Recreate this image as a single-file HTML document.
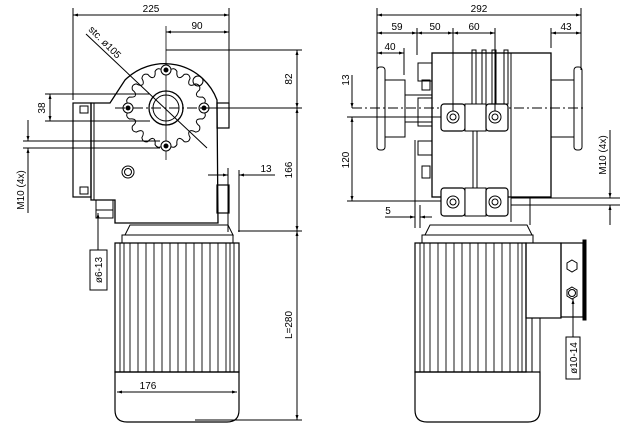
<!DOCTYPE html>
<html><head><meta charset="utf-8"><style>
html,body{margin:0;padding:0;background:#fff;width:620px;height:435px;overflow:hidden}
svg{display:block}
text{font-family:"Liberation Sans",sans-serif;font-size:10px;fill:#000}
</style></head><body>
<svg width="620" height="435" viewBox="0 0 620 435" xmlns="http://www.w3.org/2000/svg">
<defs>
<marker id="a" viewBox="0 0 10 10" refX="10" refY="5" markerWidth="7" markerHeight="5" orient="auto-start-reverse"><path d="M0,2 L10,5 L0,8z" fill="#000"/></marker>
<g id="tooth"><path d="M-6.4,-32.4 Q-4,-33 -3.6,-38 Q0,-42 3.6,-38 Q4,-33 6.4,-32.4" fill="none" stroke="#000" stroke-width="1"/></g>
</defs>
<g stroke="#000" stroke-width="1" fill="none">
<line x1="73" y1="8" x2="73" y2="100"/><line x1="229" y1="8" x2="229" y2="103"/>
<line x1="73" y1="15" x2="229" y2="15" marker-start="url(#a)" marker-end="url(#a)"/>
<line x1="166" y1="26" x2="166" y2="160" stroke-width="0.8"/>
<line x1="166" y1="32" x2="229" y2="32" marker-start="url(#a)" marker-end="url(#a)"/>
<line x1="166" y1="50" x2="302" y2="50"/><line x1="212" y1="108" x2="302" y2="108"/>
<line x1="297" y1="50" x2="297" y2="108" marker-start="url(#a)" marker-end="url(#a)"/>
<line x1="297" y1="108" x2="297" y2="231" marker-start="url(#a)" marker-end="url(#a)"/>
<line x1="297" y1="231" x2="297" y2="420" marker-start="url(#a)" marker-end="url(#a)"/>
<line x1="238" y1="231" x2="302" y2="231"/><line x1="195" y1="420" x2="302" y2="420"/>
<line x1="86" y1="34" x2="207" y2="148"/>
<line x1="45" y1="94" x2="150" y2="94"/><line x1="45" y1="121" x2="150" y2="121"/>
<line x1="50" y1="94" x2="50" y2="121" marker-start="url(#a)" marker-end="url(#a)"/>
<line x1="23" y1="141" x2="160" y2="141"/><line x1="23" y1="148" x2="160" y2="148"/>
<line x1="28" y1="120" x2="28" y2="141" marker-end="url(#a)"/><line x1="28" y1="168" x2="28" y2="148" marker-end="url(#a)"/>
<line x1="28" y1="168" x2="28" y2="213"/>
<line x1="228" y1="168" x2="228" y2="232"/><line x1="239" y1="170" x2="239" y2="232"/>
<line x1="208" y1="175" x2="228" y2="175" marker-end="url(#a)"/><line x1="275" y1="175" x2="239" y2="175" marker-end="url(#a)"/>
<path d="M102,103 L110,103 L125,80 A56,56 0 0 1 217,100 L217,103 L218,223 L115,223 L115,200 L91,200 L91,103 Z" stroke-width="1.3"/>
<line x1="94" y1="103" x2="94" y2="200"/>
<rect x="73" y="103" width="18" height="94" stroke-width="1.2"/>
<rect x="80" y="106" width="8" height="7"/><rect x="80" y="187" width="8" height="7"/>
<rect x="217" y="103" width="12" height="25" stroke-width="1.2"/>
<rect x="217" y="185" width="12" height="28" stroke-width="1.2"/>
<g transform="translate(166,108)">
<use href="#tooth" transform="rotate(11.25)"/><use href="#tooth" transform="rotate(33.75)"/><use href="#tooth" transform="rotate(56.25)"/><use href="#tooth" transform="rotate(78.75)"/><use href="#tooth" transform="rotate(101.25)"/><use href="#tooth" transform="rotate(123.75)"/><use href="#tooth" transform="rotate(146.25)"/><use href="#tooth" transform="rotate(168.75)"/><use href="#tooth" transform="rotate(191.25)"/><use href="#tooth" transform="rotate(213.75)"/><use href="#tooth" transform="rotate(236.25)"/><use href="#tooth" transform="rotate(258.75)"/><use href="#tooth" transform="rotate(281.25)"/><use href="#tooth" transform="rotate(303.75)"/><use href="#tooth" transform="rotate(326.25)"/><use href="#tooth" transform="rotate(348.75)"/>
</g>
<circle cx="166" cy="108" r="17" stroke-width="1.3"/><circle cx="166" cy="108" r="13"/>
<circle cx="128" cy="108" r="5" fill="#fff"/><circle cx="128" cy="108" r="2" fill="#000"/>
<circle cx="204" cy="108" r="5" fill="#fff"/><circle cx="204" cy="108" r="2" fill="#000"/>
<circle cx="166" cy="70" r="5" fill="#fff"/><circle cx="166" cy="70" r="2" fill="#000"/>
<circle cx="166" cy="146" r="5" fill="#fff"/><circle cx="166" cy="146" r="2" fill="#000"/>
<circle cx="198" cy="81" r="5"/>
<line x1="115" y1="108" x2="229" y2="108" stroke-dasharray="10,3,2,3"/>
<circle cx="128" cy="172" r="6"/><circle cx="128" cy="172" r="3.5"/>
<rect x="96" y="200" width="17" height="18"/><line x1="96" y1="210" x2="113" y2="210"/>
<path d="M125,235 L130,225 L228,225 L233,235 Z"/>
<rect x="122" y="235" width="111" height="8"/>
<path d="M115,243 L239,243 L239,372 L115,372 Z" stroke-width="1.2"/>
<path d="M115,372 L239,372 L239,410 Q239,422 227,422 L127,422 Q115,422 115,410 Z" stroke-width="1.2"/>
<g stroke-width="0.9">
<line x1="120" y1="243" x2="120" y2="372"/><line x1="124" y1="243" x2="124" y2="372"/><line x1="130" y1="243" x2="130" y2="372"/><line x1="138" y1="243" x2="138" y2="372"/><line x1="146" y1="243" x2="146" y2="372"/><line x1="154" y1="243" x2="154" y2="372"/><line x1="162" y1="243" x2="162" y2="372"/><line x1="170" y1="243" x2="170" y2="372"/><line x1="178" y1="243" x2="178" y2="372"/><line x1="186" y1="243" x2="186" y2="372"/><line x1="194" y1="243" x2="194" y2="372"/><line x1="202" y1="243" x2="202" y2="372"/><line x1="210" y1="243" x2="210" y2="372"/><line x1="218" y1="243" x2="218" y2="372"/><line x1="226" y1="243" x2="226" y2="372"/><line x1="230" y1="243" x2="230" y2="372"/><line x1="234" y1="243" x2="234" y2="372"/>
</g>
<line x1="117" y1="392" x2="237" y2="392" marker-start="url(#a)" marker-end="url(#a)"/>
<line x1="98" y1="250" x2="98" y2="213" marker-end="url(#a)"/>
<rect x="90" y="250" width="17" height="40"/>

<line x1="377" y1="8" x2="377" y2="70"/><line x1="581" y1="8" x2="581" y2="70"/>
<line x1="377" y1="15" x2="581" y2="15" marker-start="url(#a)" marker-end="url(#a)"/>
<line x1="377" y1="33" x2="417" y2="33" marker-start="url(#a)" marker-end="url(#a)"/>
<line x1="417" y1="33" x2="453" y2="33" marker-start="url(#a)" marker-end="url(#a)"/>
<line x1="453" y1="33" x2="495" y2="33" marker-start="url(#a)" marker-end="url(#a)"/>
<line x1="551" y1="33" x2="581" y2="33" marker-start="url(#a)" marker-end="url(#a)"/>
<line x1="377" y1="53" x2="404" y2="53" marker-start="url(#a)" marker-end="url(#a)"/>
<line x1="417" y1="28" x2="417" y2="55"/><line x1="551" y1="28" x2="551" y2="48"/><line x1="404" y1="48" x2="404" y2="75"/>
<line x1="352" y1="108" x2="585" y2="108" stroke-dasharray="10,3,2,3"/>
<line x1="347" y1="117" x2="443" y2="117"/>
<line x1="352" y1="75" x2="352" y2="108" marker-end="url(#a)"/>
<line x1="352" y1="201" x2="352" y2="117" marker-start="url(#a)" marker-end="url(#a)"/>
<line x1="347" y1="201" x2="443" y2="201"/>
<line x1="415" y1="140" x2="415" y2="228"/><line x1="420" y1="205" x2="420" y2="228"/>
<line x1="385" y1="217" x2="415" y2="217" marker-end="url(#a)"/><line x1="432" y1="217" x2="420" y2="217" marker-end="url(#a)"/>
<rect x="377" y="67" width="8" height="83" rx="3"/><rect x="385" y="80" width="20" height="57"/>
<line x1="405" y1="95" x2="432" y2="95"/><line x1="405" y1="122" x2="432" y2="122"/>
<rect x="574" y="67" width="8" height="83" rx="3"/><rect x="551" y="80" width="23" height="57"/>
<rect x="432" y="53" width="119" height="144" stroke-width="1.3"/>
<line x1="511" y1="53" x2="511" y2="222"/>
<rect x="418" y="63" width="14" height="18"/><rect x="418" y="98" width="14" height="28"/><rect x="418" y="141" width="14" height="14"/>
<rect x="422" y="80" width="8" height="10"/><rect x="422" y="166" width="8" height="12"/>
<rect x="472" y="50" width="4" height="54"/><rect x="482" y="50" width="4" height="54"/><rect x="492" y="50" width="4" height="54"/><rect x="504" y="50" width="4" height="54"/>
<rect x="473" y="131" width="4" height="57"/>
<rect x="441" y="104" width="24" height="27" rx="3" fill="#fff" stroke-width="1.2"/><rect x="465" y="104" width="21" height="27" fill="#fff"/><rect x="486" y="104" width="22" height="27" rx="3" fill="#fff" stroke-width="1.2"/>
<rect x="441" y="188" width="24" height="28" rx="3" fill="#fff" stroke-width="1.2"/><rect x="465" y="188" width="21" height="28" fill="#fff"/><rect x="486" y="188" width="22" height="28" rx="3" fill="#fff" stroke-width="1.2"/>
<circle cx="453" cy="117" r="6"/><circle cx="453" cy="117" r="3"/><circle cx="495" cy="117" r="6"/><circle cx="495" cy="117" r="3"/>
<circle cx="453" cy="202" r="6"/><circle cx="453" cy="202" r="3"/><circle cx="495" cy="202" r="6"/><circle cx="495" cy="202" r="3"/>
<line x1="453" y1="28" x2="453" y2="111"/><line x1="495" y1="28" x2="495" y2="111"/>
<path d="M508,197 L530,197 L530,225"/>
<line x1="511" y1="198" x2="620" y2="198"/><line x1="511" y1="205" x2="620" y2="205"/>
<line x1="610" y1="180" x2="610" y2="198" marker-end="url(#a)"/><line x1="610" y1="225" x2="610" y2="205" marker-end="url(#a)"/>
<line x1="610" y1="130" x2="610" y2="180"/>
<path d="M425,235 L430,225 L527,225 L532,235 Z"/>
<rect x="422" y="235" width="111" height="8"/>
<path d="M415,243 L526,243 L526,372 L415,372 Z" stroke-width="1.2"/>
<path d="M415,372 L540,372 L540,410 Q540,422 528,422 L427,422 Q415,422 415,410 Z" stroke-width="1.2"/>
<line x1="532" y1="318" x2="532" y2="372"/><line x1="540" y1="318" x2="540" y2="372"/>
<rect x="526" y="243" width="35" height="75" stroke-width="1.2"/>
<rect x="561" y="243" width="22" height="74" stroke-width="1.2"/>
<rect x="583" y="240" width="3" height="80" fill="#000"/>
<g stroke-width="0.9">
<line x1="420" y1="243" x2="420" y2="372"/><line x1="424" y1="243" x2="424" y2="372"/><line x1="430" y1="243" x2="430" y2="372"/><line x1="438" y1="243" x2="438" y2="372"/><line x1="446" y1="243" x2="446" y2="372"/><line x1="454" y1="243" x2="454" y2="372"/><line x1="462" y1="243" x2="462" y2="372"/><line x1="470" y1="243" x2="470" y2="372"/><line x1="478" y1="243" x2="478" y2="372"/><line x1="486" y1="243" x2="486" y2="372"/><line x1="494" y1="243" x2="494" y2="372"/><line x1="502" y1="243" x2="502" y2="372"/><line x1="510" y1="243" x2="510" y2="372"/><line x1="518" y1="243" x2="518" y2="372"/><line x1="522" y1="243" x2="522" y2="372"/>
</g>
<polygon points="572,260 577,263 577,269 572,272 567,269 567,263"/>
<polygon points="572,287 577,290 577,296 572,299 567,296 567,290"/><circle cx="572" cy="293" r="3.5"/>
<line x1="573" y1="337" x2="573" y2="299" marker-end="url(#a)"/>
<rect x="566" y="337" width="14" height="42"/>
</g>
<g>
<text x="151" y="12" text-anchor="middle">225</text>
<text x="197" y="29" text-anchor="middle">90</text>
<text transform="translate(88,30) rotate(45)" font-size="10">stc. ø105</text>
<text transform="translate(292,79) rotate(-90)" text-anchor="middle">82</text>
<text transform="translate(292,170) rotate(-90)" text-anchor="middle">166</text>
<text transform="translate(292,325) rotate(-90)" text-anchor="middle">L=280</text>
<text transform="translate(45,108) rotate(-90)" text-anchor="middle">38</text>
<text transform="translate(24,190) rotate(-90)" text-anchor="middle" font-size="9">M10 (4x)</text>
<text x="266" y="172" text-anchor="middle">13</text>
<text x="148" y="389" text-anchor="middle">176</text>
<text transform="translate(102,270) rotate(-90)" text-anchor="middle" font-size="9">ø6-13</text>
<text x="479" y="12" text-anchor="middle">292</text>
<text x="397" y="30" text-anchor="middle">59</text>
<text x="435" y="30" text-anchor="middle">50</text>
<text x="474" y="30" text-anchor="middle">60</text>
<text x="566" y="30" text-anchor="middle">43</text>
<text x="390" y="50" text-anchor="middle">40</text>
<text transform="translate(349,80) rotate(-90)" text-anchor="middle">13</text>
<text transform="translate(349,160) rotate(-90)" text-anchor="middle">120</text>
<text x="388" y="214" text-anchor="middle">5</text>
<text transform="translate(606,155) rotate(-90)" text-anchor="middle" font-size="9">M10 (4x)</text>
<text transform="translate(577,358) rotate(-90)" text-anchor="middle" font-size="9">ø10-14</text>
</g>
</svg>
</body></html>
